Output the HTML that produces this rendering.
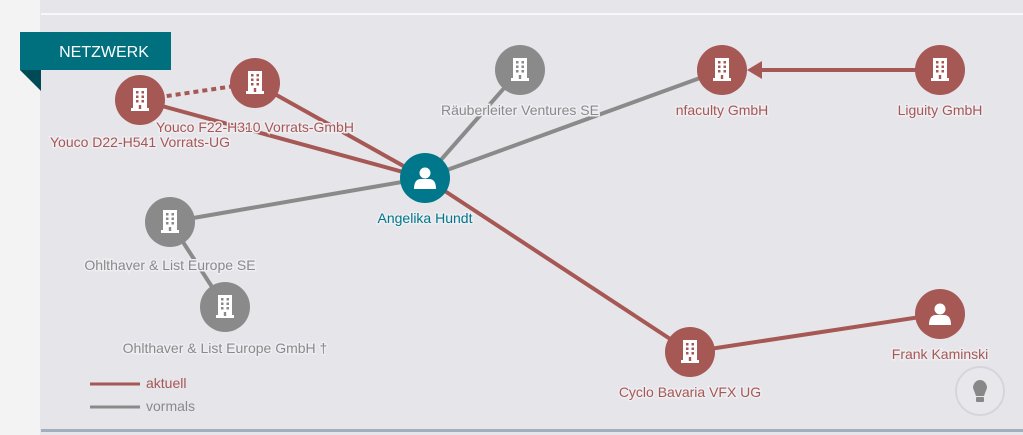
<!DOCTYPE html>
<html><head><meta charset="utf-8"><style>
body{margin:0;width:1023px;height:435px;overflow:hidden;background:#e6e5ea;font-family:"Liberation Sans",sans-serif}
</style></head><body>
<svg width="1023" height="435" viewBox="0 0 1023 435" xmlns="http://www.w3.org/2000/svg" style="position:absolute;left:0;top:0">
<defs>
<g id="bld"><rect x="-7" y="-12" width="14" height="22" fill="#fff"/><rect x="-9" y="8" width="18" height="3" fill="#fff"/>
<g fill="currentColor"><rect x="-4" y="-9" width="2.5" height="2.5"/><rect x="1.5" y="-9" width="2.5" height="2.5"/><rect x="-4" y="-4.5" width="2.5" height="2.5"/><rect x="1.5" y="-4.5" width="2.5" height="2.5"/><rect x="-4" y="0" width="2.5" height="2.5"/><rect x="1.5" y="0" width="2.5" height="2.5"/><rect x="-1.2" y="5" width="2.4" height="4"/></g></g>
<g id="per"><circle cx="0" cy="-5" r="5.5" fill="#fff"/><path d="M-11 11 Q-11 1 -4 1 L4 1 Q11 1 11 11 Z" fill="#fff"/></g>
</defs>
<rect x="0" y="0" width="40" height="435" fill="#f3f3f4"/>
<rect x="41" y="13" width="982" height="2" fill="#f8f8fa"/>
<rect x="41" y="429" width="982" height="3" fill="#a3afbd"/>
<g stroke-width="4" fill="none">
<line x1="140" y1="100" x2="425" y2="178" stroke="#a65855"/>
<line x1="255" y1="83" x2="425" y2="178" stroke="#a65855"/>
<line x1="140" y1="100" x2="255" y2="83" stroke="#a65855" stroke-dasharray="5,4"/>
<line x1="520" y1="70" x2="425" y2="178" stroke="#8a8a8a"/>
<line x1="722" y1="70" x2="425" y2="178" stroke="#8a8a8a"/>
<line x1="170" y1="222" x2="425" y2="178" stroke="#8a8a8a"/>
<line x1="170" y1="222" x2="225" y2="307" stroke="#8a8a8a"/>
<line x1="425" y1="178" x2="690" y2="352" stroke="#a65855"/>
<line x1="690" y1="352" x2="940" y2="314" stroke="#a65855"/>
<line x1="940" y1="70" x2="760" y2="70" stroke="#a65855"/>
</g>
<polygon points="747,70 762,61 762,79" fill="#a65855"/>
<g style="color:#a65855">
<circle cx="140" cy="100" r="25" fill="#a65855"/><use href="#bld" x="140" y="100"/>
<circle cx="255" cy="83" r="25" fill="#a65855"/><use href="#bld" x="255" y="83"/>
<circle cx="722" cy="70" r="25" fill="#a65855"/><use href="#bld" x="722" y="70"/>
<circle cx="940" cy="70" r="25" fill="#a65855"/><use href="#bld" x="940" y="70"/>
<circle cx="690" cy="352" r="25" fill="#a65855"/><use href="#bld" x="690" y="352"/>
<circle cx="940" cy="314" r="25" fill="#a65855"/><use href="#per" x="940" y="314"/>
</g>
<g style="color:#8a8a8a">
<circle cx="520" cy="70" r="25" fill="#8a8a8a"/><use href="#bld" x="520" y="70"/>
<circle cx="170" cy="222" r="25" fill="#8a8a8a"/><use href="#bld" x="170" y="222"/>
<circle cx="225" cy="307" r="25" fill="#8a8a8a"/><use href="#bld" x="225" y="307"/>
</g>
<circle cx="425" cy="178" r="25" fill="#00778a"/><use href="#per" x="425" y="178"/>
<g font-size="14" text-anchor="middle" stroke="#eeedf1" stroke-width="3" paint-order="stroke">
<text x="140" y="147" fill="#a65855">Youco D22-H541 Vorrats-UG</text>
<text x="255" y="132" fill="#a65855">Youco F22-H310 Vorrats-GmbH</text>
<text x="520" y="115" fill="#8a8a8a">Räuberleiter Ventures SE</text>
<text x="722" y="115" fill="#a65855">nfaculty GmbH</text>
<text x="940" y="115" fill="#a65855">Liguity GmbH</text>
<text x="425" y="223" fill="#00778a">Angelika Hundt</text>
<text x="170" y="270" fill="#8a8a8a">Ohlthaver &amp; List Europe SE</text>
<text x="225" y="353" fill="#8a8a8a">Ohlthaver &amp; List Europe GmbH †</text>
<text x="690" y="397" fill="#a65855">Cyclo Bavaria VFX UG</text>
<text x="940" y="359" fill="#a65855">Frank Kaminski</text>
</g>
<line x1="90" y1="384" x2="140" y2="384" stroke="#a65855" stroke-width="3"/>
<text x="146" y="388" font-size="14" fill="#a65855">aktuell</text>
<line x1="90" y1="407" x2="140" y2="407" stroke="#8a8a8a" stroke-width="3"/>
<text x="146" y="411" font-size="14" fill="#8a8a8a">vormals</text>
<circle cx="980" cy="391" r="24" fill="#e8e7ec" stroke="#d6d6da" stroke-width="2"/>
<path d="M973 388 a7 8 0 1 1 14 0 q-2 5 -3 8 h-8 q-1 -3 -3 -8z" fill="#888"/>
<rect x="976" y="397" width="8" height="5" rx="1" fill="#888"/>
<rect x="20" y="32" width="151" height="38" fill="#00707f"/>
<polygon points="20,70 41,70 41,91" fill="#004a55"/>
<text x="104" y="57" font-size="16" fill="#fff" text-anchor="middle">NETZWERK</text>
</svg>
</body></html>
